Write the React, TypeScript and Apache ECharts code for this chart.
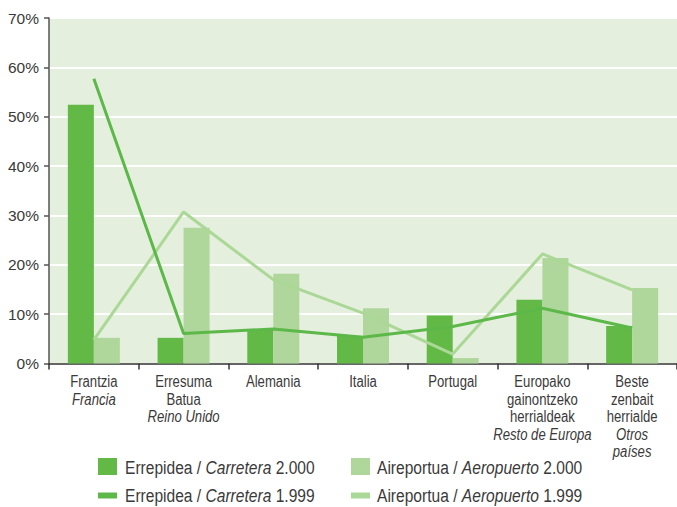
import React, { useEffect, useRef } from "react";
import * as echarts from "echarts";

const categories: string[] = [
  "Frantzia\n{i|Francia}",
  "Erresuma\nBatua\n{i|Reino Unido}",
  "Alemania",
  "Italia",
  "Portugal",
  "Europako\ngainontzeko\nherrialdeak\n{i|Resto de Europa}",
  "Beste\nzenbait\nherrialde\n{i|Otros}\n{i|países}",
];

const road2000: number[] = [52.4, 5.2, 6.8, 5.6, 9.7, 12.9, 7.6];
const air2000: number[] = [5.2, 27.5, 18.2, 11.2, 1.1, 21.4, 15.3];
const road1999: number[] = [57.7, 6.1, 7.0, 5.3, 7.5, 11.2, 7.2];
const air1999: number[] = [4.8, 30.7, 17.0, 10.2, 1.9, 22.2, 14.9];

const seriesNames = {
  road2000: "Errepidea 2000",
  air2000: "Aireportua 2000",
  road1999: "Errepidea 1999",
  air1999: "Aireportua 1999",
};

const legendLabels: Record<string, string> = {
  "Errepidea 2000": "Errepidea / {i|Carretera} 2.000",
  "Aireportua 2000": "Aireportua / {i|Aeropuerto} 2.000",
  "Errepidea 1999": "Errepidea / {i|Carretera} 1.999",
  "Aireportua 1999": "Aireportua / {i|Aeropuerto} 1.999",
};

const FONT = "'Liberation Sans', Arial, sans-serif";
const TEXT = "#3a3a3a";
const DARK = "#62b946";
const LIGHT = "#afd69b";
const DARK_LINE = "#5cb848";
const LIGHT_LINE = "#abd897";
const NARROW = 0.82;

function makeLegend(name: string, left: number, top: number, h: number) {
  return {
    data: [{ name, icon: "rect" }],
    left,
    top,
    orient: "horizontal",
    itemWidth: 19,
    itemHeight: h,
    padding: 0,
    selectedMode: false,
    formatter: () => "",
    textStyle: { fontSize: 1 },
  };
}

export default function App() {
  const ref = useRef<HTMLDivElement>(null);
  useEffect(() => {
    if (!ref.current) return;
    const chart = echarts.init(ref.current, undefined, { renderer: "svg" });
    chart.setOption({
      animation: false,
      backgroundColor: "#ffffff",
      grid: {
        left: 49,
        top: 18,
        width: 632,
        height: 345.5,
        show: true,
        backgroundColor: "#e4efdd",
        borderWidth: 0,
        containLabel: false,
      },
      legend: [
        makeLegend(seriesNames.road2000, 98, 458, 17),
        makeLegend(seriesNames.air2000, 351, 458, 17),
        makeLegend(seriesNames.road1999, 98, 492.5, 6),
        makeLegend(seriesNames.air1999, 351, 492.5, 6),
      ],
      xAxis: {
        type: "category",
        data: categories,
        axisLine: { show: true, lineStyle: { color: "#333333", width: 1.5 } },
        axisTick: { show: true, length: 6, interval: 0, lineStyle: { color: "#333333", width: 1.5 } },
        axisLabel: { show: false },
        splitLine: { show: false },
      },
      yAxis: {
        type: "value",
        min: 0,
        max: 70,
        interval: 10,
        axisLine: { show: true, lineStyle: { color: "#555555", width: 1.5 } },
        axisTick: { show: true, length: 5, lineStyle: { color: "#555555", width: 1.5 } },
        axisLabel: {
          formatter: "{value}%",
          margin: 10,
          fontFamily: FONT,
          fontSize: 15.5,
          color: TEXT,
        },
        splitLine: { show: true, lineStyle: { color: "#ffffff", width: 2 } },
      },
      series: [
        {
          name: seriesNames.road2000,
          type: "bar",
          data: road2000,
          barWidth: 26,
          barGap: "0%",
          itemStyle: { color: DARK },
        },
        {
          name: seriesNames.air2000,
          type: "bar",
          data: air2000,
          barWidth: 26,
          barGap: "0%",
          itemStyle: { color: LIGHT },
        },
        {
          name: seriesNames.air1999,
          type: "line",
          data: air1999,
          showSymbol: false,
          symbol: "none",
          lineStyle: { color: LIGHT_LINE, width: 3 },
          itemStyle: { color: LIGHT_LINE },
          z: 3,
        },
        {
          name: seriesNames.road1999,
          type: "line",
          data: road1999,
          showSymbol: false,
          symbol: "none",
          lineStyle: { color: DARK_LINE, width: 3 },
          itemStyle: { color: DARK_LINE },
          z: 4,
        },
      ],
    });

    const axisY = chart.convertToPixel({ yAxisIndex: 0 }, 0) as number;
    const catTexts = categories.map((c, i) => {
      const x = chart.convertToPixel({ xAxisIndex: 0 }, i) as number;
      return {
        type: "text",
        x,
        y: axisY + 9.5,
        scaleX: NARROW,
        silent: true,
        style: {
          text: c,
          fill: TEXT,
          fontFamily: FONT,
          fontSize: 16,
          lineHeight: 17.5,
          align: "center",
          verticalAlign: "top",
          rich: {
            i: { fill: TEXT, fontFamily: FONT, fontSize: 16, lineHeight: 17.5, fontStyle: "italic" },
          },
        },
      };
    });
    const legendPos: [string, number, number][] = [
      [seriesNames.road2000, 125, 467],
      [seriesNames.air2000, 377, 467],
      [seriesNames.road1999, 125, 495],
      [seriesNames.air1999, 377, 495],
    ];
    const legendTexts = legendPos.map(([n, x, y]) => ({
      type: "text",
      x,
      y,
      scaleX: NARROW,
      silent: true,
      style: {
        text: legendLabels[n],
        fill: TEXT,
        fontFamily: FONT,
        fontSize: 19,
        lineHeight: 20,
        align: "left",
        verticalAlign: "middle",
        rich: {
          i: { fill: TEXT, fontFamily: FONT, fontSize: 19, lineHeight: 20, fontStyle: "italic" },
        },
      },
    }));
    chart.setOption({ graphic: [...catTexts, ...legendTexts] });

    return () => chart.dispose();
  }, []);
  return (
    <div
      ref={ref}
      style={{ position: "absolute", left: 0, top: 0, width: 677, height: 507 }}
    />
  );
}
